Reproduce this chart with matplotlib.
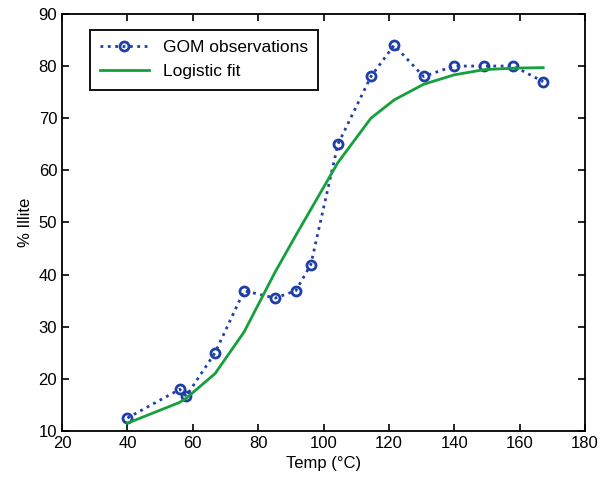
import numpy as np
import matplotlib.pyplot as plt

plt.rcParams['font.family'] = ['Liberation Sans', 'DejaVu Sans']

# GOM observations
temp_obs = [40, 56, 58, 66.8, 75.7, 85.2, 91.5, 96.1, 104.4, 114.5, 121.6, 130.6, 139.9, 149, 158.1, 167.2]
illite_obs = [12.5, 18, 16.7, 25, 36.9, 35.5, 36.9, 41.9, 65, 78, 84, 78, 80, 80, 80, 77]

# Logistic fit evaluated at the same temperatures
illite_fit = [11.5, 15.5, 16.3, 21, 29, 40.5, 47.5, 52.5, 61.5, 70, 73.5, 76.5, 78.3, 79.3, 79.6, 79.7]

fig = plt.figure(figsize=(6.05, 4.8), dpi=100)
ax = fig.add_axes([0.1025, 0.102, 0.8645, 0.869])

ax.plot(temp_obs, illite_obs, linestyle=':', color='#1f3fa8', linewidth=2,
        marker='o', markersize=6.5, markerfacecolor='none', markeredgewidth=2,
        markeredgecolor='#1f3fa8', label='GOM observations')
ax.plot(temp_obs, illite_fit, color='#14a03c', linewidth=2, label='Logistic fit')

ax.set_xlim(20, 180)
ax.set_ylim(10, 90)
ax.set_xticks(np.arange(20, 181, 20))
ax.set_yticks(np.arange(10, 91, 10))
ax.tick_params(direction='in', top=True, right=True, labelsize=12, length=5, width=1.2)
for s in ax.spines.values():
    s.set_linewidth(1.3)

ax.set_xlabel('Temp (°C)', fontsize=12)
ax.set_ylabel('% Illite', fontsize=12)

leg = ax.legend(loc='upper left', bbox_to_anchor=(0.053, 0.962), borderaxespad=0,
                fontsize=12.5, fancybox=False, framealpha=1, edgecolor='black',
                handlelength=2.8, borderpad=0.6, labelspacing=0.5)
leg.get_frame().set_linewidth(1.3)

fig.savefig('out.png', dpi=100)
